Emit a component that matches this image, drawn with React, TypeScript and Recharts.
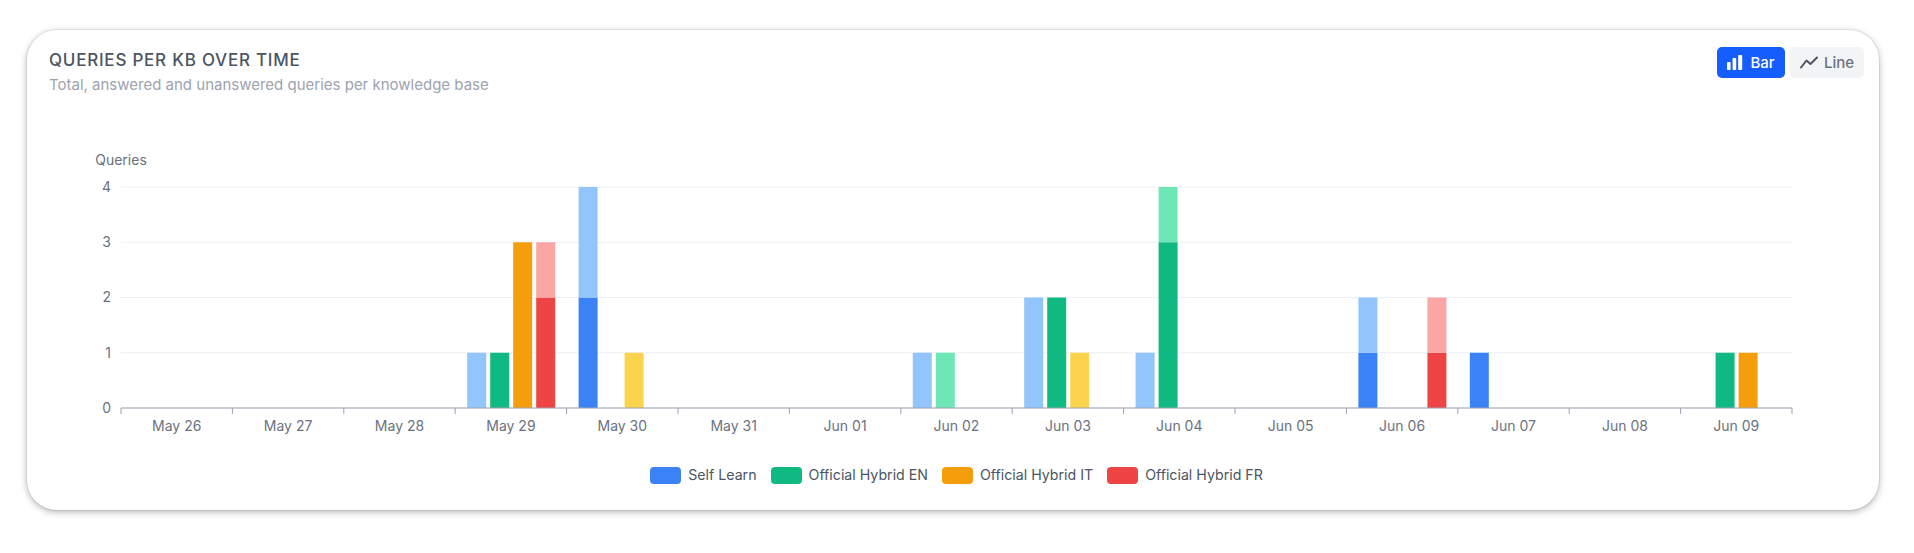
import React from 'react';
import { BarChart, Bar, XAxis, YAxis, CartesianGrid, Legend, Label } from 'recharts';

const dates = ['May 26', 'May 27', 'May 28', 'May 29', 'May 30', 'May 31', 'Jun 01', 'Jun 02', 'Jun 03', 'Jun 04', 'Jun 05', 'Jun 06', 'Jun 07', 'Jun 08', 'Jun 09'];

const selfLearnAnswered = [0, 0, 0, 0, 2, 0, 0, 0, 0, 0, 0, 1, 1, 0, 0];
const selfLearnUnanswered = [0, 0, 0, 1, 2, 0, 0, 1, 2, 1, 0, 1, 0, 0, 0];
const hybridEnAnswered = [0, 0, 0, 1, 0, 0, 0, 0, 2, 3, 0, 0, 0, 0, 1];
const hybridEnUnanswered = [0, 0, 0, 0, 0, 0, 0, 1, 0, 1, 0, 0, 0, 0, 0];
const hybridItAnswered = [0, 0, 0, 3, 0, 0, 0, 0, 0, 0, 0, 0, 0, 0, 1];
const hybridItUnanswered = [0, 0, 0, 0, 1, 0, 0, 0, 1, 0, 0, 0, 0, 0, 0];
const hybridFrAnswered = [0, 0, 0, 2, 0, 0, 0, 0, 0, 0, 0, 1, 0, 0, 0];
const hybridFrUnanswered = [0, 0, 0, 1, 0, 0, 0, 0, 0, 0, 0, 1, 0, 0, 0];

const yTicks = [0, 1, 2, 3, 4];
const kbNames = ['Self Learn', 'Official Hybrid EN', 'Official Hybrid IT', 'Official Hybrid FR'];
const kbKeys = ['sl', 'en', 'it', 'fr'];
const solidColors = ['#3b82f6', '#10b981', '#f59e0b', '#ef4444'];
const lightColors = ['#93c5fd', '#6ee7b7', '#fcd34d', '#fca5a5'];

const answeredSeries = [selfLearnAnswered, hybridEnAnswered, hybridItAnswered, hybridFrAnswered];
const unansweredSeries = [selfLearnUnanswered, hybridEnUnanswered, hybridItUnanswered, hybridFrUnanswered];

const data = dates.map((date, i) => {
  const row: any = { date };
  kbKeys.forEach((k, j) => {
    row[k + 'A'] = answeredSeries[j][i];
    row[k + 'U'] = unansweredSeries[j][i];
  });
  return row;
});

const FONT = 'Inter, "Noto Sans", sans-serif';
const AXIS = '#9ca3af';
const TICK_TEXT = '#6b7280';

const XTick = (props: any) => {
  const { x, y, payload, index } = props;
  const n = dates.length;
  const half = payload && payload.offset ? payload.offset : (props.width || 0) / n / 2;
  return (
    <g>
      <line x1={x - half} x2={x - half} y1={y} y2={y + 6} stroke={AXIS} strokeWidth={1} />
      {index === n - 1 ? <line x1={x + half} x2={x + half} y1={y} y2={y + 6} stroke={AXIS} strokeWidth={1} /> : null}
      <text x={x} y={y + 18} dy="0.35em" textAnchor="middle" fill={TICK_TEXT} fontSize={14}>
        {payload.value}
      </text>
    </g>
  );
};

const YTitle = (props: any) => {
  const vb = props.viewBox || { x: 34, y: 57, width: 60, height: 221 };
  return (
    <text x={vb.x + vb.width} y={vb.y - 27} dy="0.35em" textAnchor="middle" fill={TICK_TEXT} fontSize={14}>
      Queries
    </text>
  );
};

const LegendContent = () => (
  <div style={{ display: 'flex', justifyContent: 'center', alignItems: 'center', height: 18, paddingTop: 28, paddingLeft: 60, fontFamily: FONT }}>
    {kbNames.map((name, i) => (
      <div key={name} style={{ display: 'flex', alignItems: 'center', marginRight: i < kbNames.length - 1 ? 14 : 0 }}>
        <span style={{ display: 'inline-block', width: 31, height: 17, borderRadius: 4, background: solidColors[i], marginRight: 7 }} />
        <span style={{ fontSize: 14.2, color: '#4b5563', lineHeight: '18px' }}>{name}</span>
      </div>
    ))}
  </div>
);

const BarIcon = () => (
  <svg width={16} height={15} viewBox="0 0 16 15" style={{ marginRight: 7 }}>
    <rect x={0} y={7} width={3.6} height={8} rx={0.8} fill="#fff" />
    <rect x={5.6} y={3} width={3.6} height={12} rx={0.8} fill="#fff" />
    <rect x={11.2} y={0} width={4} height={15} rx={0.8} fill="#fff" />
  </svg>
);

const LineIcon = () => (
  <svg width={18} height={13} viewBox="0 0 18 13" style={{ marginRight: 6 }}>
    <polyline points="1,11.5 6.5,4.5 10.5,8 17,1.5" fill="none" stroke="#4b5563" strokeWidth={2} strokeLinecap="round" strokeLinejoin="round" />
  </svg>
);

export default function App() {
  return (
    <div style={{ position: 'absolute', left: 0, top: 0, width: 1914, height: 553, background: '#ffffff', fontFamily: FONT }}>
      <div
        style={{
          position: 'absolute',
          left: 27,
          top: 30,
          width: 1852,
          height: 480,
          borderRadius: 30,
          background: '#ffffff',
          boxShadow: '0 0 0 1px rgba(0,0,0,0.05), 0 2px 7px rgba(0,0,0,0.3)',
        }}
      >
        <div style={{ position: 'absolute', left: 22, top: 19, fontSize: 17, lineHeight: '22px', fontWeight: 500, letterSpacing: '0.045em', color: '#4b5563' }}>
          QUERIES PER KB OVER TIME
        </div>
        <div style={{ position: 'absolute', left: 22, top: 45, fontSize: 15, lineHeight: '20px', color: '#9ca3af' }}>
          Total, answered and unanswered queries per knowledge base
        </div>
        <div style={{ position: 'absolute', right: 15, top: 17, display: 'flex', gap: 5 }}>
          <div style={{ width: 68, height: 31, borderRadius: 5, background: '#155dfc', color: '#fff', display: 'flex', alignItems: 'center', justifyContent: 'center', fontSize: 15, fontWeight: 500 }}>
            <BarIcon />
            Bar
          </div>
          <div style={{ width: 74, height: 31, borderRadius: 5, background: '#f3f4f6', color: '#6b7280', display: 'flex', alignItems: 'center', justifyContent: 'center', fontSize: 15, fontWeight: 500 }}>
            <LineIcon />
            Line
          </div>
        </div>
        <div style={{ position: 'absolute', left: 0, top: 100 }}>
          <BarChart
            width={1852}
            height={364}
            data={data}
            margin={{ top: 57, right: 87, left: 34, bottom: 10 }}
            barCategoryGap="10%"
            barGap={4}
            barSize={19}
            style={{ fontFamily: FONT }}
          >
            <CartesianGrid vertical={false} stroke="#edf0f5" strokeWidth={1} />
            <XAxis
              dataKey="date"
              interval={0}
              height={30}
              tickSize={0}
              tickMargin={0}
              tickLine={false}
              axisLine={{ stroke: AXIS, strokeWidth: 1 }}
              tick={<XTick />}
            />
            <YAxis
              width={60}
              domain={[0, 4]}
              ticks={yTicks}
              allowDecimals={false}
              axisLine={false}
              tickLine={false}
              tickSize={0}
              tickMargin={10}
              tick={{ fill: TICK_TEXT, fontSize: 14 }}
            >
              <Label content={<YTitle />} />
            </YAxis>
            <Legend verticalAlign="bottom" content={<LegendContent />} />
            {kbKeys.map((k, j) => (
              <Bar key={k + 'A'} dataKey={k + 'A'} name={kbNames[j]} stackId={k} fill={solidColors[j]} isAnimationActive={false} />
            ))}
            {kbKeys.map((k, j) => (
              <Bar key={k + 'U'} dataKey={k + 'U'} name={kbNames[j] + ' unanswered'} stackId={k} fill={lightColors[j]} legendType="none" isAnimationActive={false} />
            ))}
          </BarChart>
        </div>
      </div>
    </div>
  );
}
